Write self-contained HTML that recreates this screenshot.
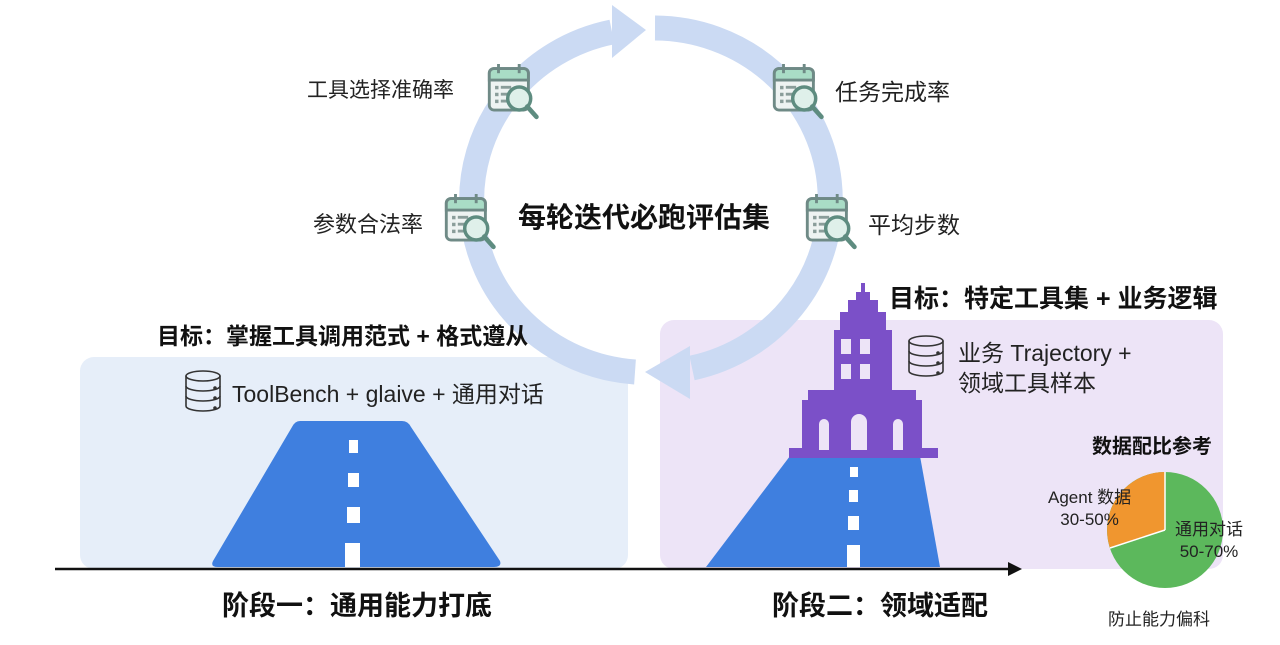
<!DOCTYPE html>
<html><head><meta charset="utf-8"><style>
html,body{margin:0;padding:0;background:#fff;}
body{width:1280px;height:645px;overflow:hidden;position:relative;font-family:"Liberation Sans","Noto Sans CJK SC",sans-serif;}
.t{position:absolute;white-space:nowrap;color:#222;}
.b{font-weight:bold;color:#111;}
</style></head><body>
<svg width="1280" height="645" style="position:absolute;left:0;top:0">
<defs>
<g id="ic">
<rect x="2" y="4" width="34" height="36" rx="4" fill="#eef3f2" stroke="#6f8a86" stroke-width="2.5"/>
<path d="M2 14 V8 a4 4 0 0 1 4 -4 H32 a4 4 0 0 1 4 4 V14 Z" fill="#a9dcc6" stroke="#6f8a86" stroke-width="2.5"/>
<line x1="10" y1="0" x2="10" y2="8" stroke="#6f8a86" stroke-width="2.5"/>
<line x1="28" y1="0" x2="28" y2="8" stroke="#6f8a86" stroke-width="2.5"/>
<g fill="#8a9d9a"><rect x="7" y="19" width="3" height="3"/><rect x="7" y="25" width="3" height="3"/><rect x="7" y="31" width="3" height="3"/>
<rect x="12" y="19" width="9" height="2.5"/><rect x="12" y="25" width="6" height="2.5"/><rect x="12" y="31" width="6" height="2.5"/></g>
<circle cx="28" cy="30" r="10" fill="#dff0ea" stroke="#5e8c80" stroke-width="3"/>
<line x1="35" y1="37" x2="43" y2="46" stroke="#5e8c80" stroke-width="4" stroke-linecap="round"/>
</g>
<g id="db" fill="none" stroke="#333" stroke-width="1.6">
<ellipse cx="18" cy="6" rx="17" ry="5"/>
<path d="M1 6 V36 a17 5 0 0 0 34 0 V6"/>
<path d="M1 16 a17 5 0 0 0 34 0 M1 26 a17 5 0 0 0 34 0"/>
<circle cx="30" cy="18" r="1" fill="#333"/><circle cx="30" cy="28" r="1" fill="#333"/><circle cx="30" cy="38" r="1" fill="#333"/>
</g>
</defs>
<rect x="80" y="357" width="548" height="212" rx="14" fill="#e6eef9"/>
<rect x="660" y="320" width="563" height="249" rx="14" fill="#ede4f7"/>
<g fill="none" stroke="#cbdaf3" stroke-width="25">
<path d="M655 28 A176 172 0 0 1 692 368"/>
<path d="M635 372 A176 172 0 0 1 612 32"/>
</g>
<polygon points="612,5 646,30 612,58" fill="#cbdaf3"/>
<polygon points="690,346 645,372 690,399" fill="#cbdaf3"/>
<use href="#ic" transform="translate(487,64) scale(1.15)"/>
<use href="#ic" transform="translate(772,64) scale(1.15)"/>
<use href="#ic" transform="translate(444,194) scale(1.15)"/>
<use href="#ic" transform="translate(805,194) scale(1.15)"/>
<path d="M300 421 H402 Q408 421 411 427 L500 561 Q502 567 494 567 H218 Q210 567 213 561 L292 427 Q295 421 300 421Z" fill="#3f7fdf"/>
<g fill="#fff"><rect x="349" y="440" width="9" height="13"/><rect x="348" y="473" width="11" height="14"/><rect x="347" y="507" width="13" height="16"/><rect x="345" y="543" width="15" height="24"/></g>
<path d="M790 456 H920 L940 567 H706 Z" fill="#3f7fdf"/>
<g fill="#fff"><rect x="850" y="467" width="8" height="10"/><rect x="849" y="490" width="9" height="12"/><rect x="848" y="516" width="11" height="14"/><rect x="847" y="545" width="13" height="22"/></g>
<g fill="#7b50c8">
<rect x="789" y="448" width="149" height="10"/>
<rect x="802" y="400" width="120" height="50"/>
<rect x="808" y="390" width="108" height="12"/>
<rect x="834" y="330" width="58" height="62"/>
<rect x="840" y="312" width="46" height="20"/>
<rect x="848" y="300" width="30" height="14"/>
<rect x="856" y="292" width="14" height="10"/>
<rect x="861" y="283" width="4" height="12"/>
</g>
<g fill="#ede4f7">
<rect x="841" y="339" width="10" height="15"/><rect x="860" y="339" width="10" height="15"/>
<rect x="841" y="364" width="10" height="15"/><rect x="860" y="364" width="10" height="15"/>
<path d="M819 450 V424 a5 5 0 0 1 10 0 V450Z"/><path d="M851 450 V422 a8 8 0 0 1 16 0 V450Z"/><path d="M893 450 V424 a5 5 0 0 1 10 0 V450Z"/>
</g>
<use href="#db" x="185" y="370"/>
<use href="#db" x="908" y="335"/>
<line x1="55" y1="569" x2="1010" y2="569" stroke="#111" stroke-width="2.5"/>
<polygon points="1008,562 1022,569 1008,576" fill="#111"/>
<g transform="translate(1165,530)">
<circle r="58" fill="#5cb85c"/>
<path d="M0 0 L0 -58 A58 58 0 0 0 -55 18 Z" fill="#f0962f"/>
<line x1="0" y1="0" x2="0" y2="-58" stroke="#fff" stroke-width="1.5"/>
<line x1="0" y1="0" x2="-55" y2="18" stroke="#fff" stroke-width="1.5"/>
</g>
</svg>
<div class="t" style="left:307px;top:74px;font-size:21px">工具选择准确率</div>
<div class="t" style="left:835px;top:73px;font-size:23px">任务完成率</div>
<div class="t" style="left:313px;top:207px;font-size:22px">参数合法率</div>
<div class="t" style="left:868px;top:206px;font-size:23px">平均步数</div>
<div class="t b" style="left:518px;top:196px;font-size:28px">每轮迭代必跑评估集</div>
<div class="t b" style="left:157px;top:317px;font-size:23px">目标：掌握工具调用范式 + 格式遵从</div>
<div class="t" style="left:232px;top:375px;font-size:23px">ToolBench + glaive + 通用对话</div>
<div class="t b" style="left:889px;top:279px;font-size:25px">目标：特定工具集 + 业务逻辑</div>
<div class="t" style="left:958px;top:338px;font-size:23px;line-height:30px">业务 Trajectory +<br>领域工具样本</div>
<div class="t b" style="left:1092px;top:430px;font-size:20px">数据配比参考</div>
<div class="t" style="left:1048px;top:487px;font-size:17px;line-height:22px;text-align:center">Agent 数据<br>30-50%</div>
<div class="t" style="left:1175px;top:519px;font-size:17px;line-height:22px;text-align:center">通用对话<br>50-70%</div>
<div class="t" style="left:1108px;top:605px;font-size:17px">防止能力偏科</div>
<div class="t b" style="left:222px;top:584px;font-size:27px">阶段一：通用能力打底</div>
<div class="t b" style="left:772px;top:584px;font-size:27px">阶段二：领域适配</div>
</body></html>
